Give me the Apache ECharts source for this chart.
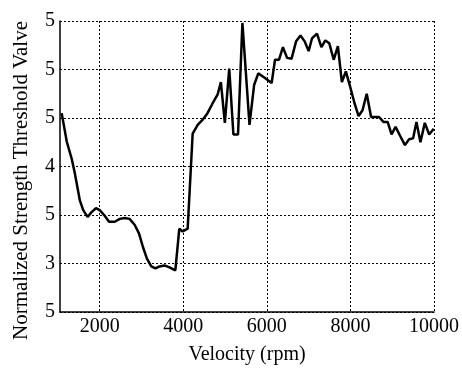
<!DOCTYPE html>
<html>
<head>
<meta charset="utf-8">
<script src="https://cdn.jsdelivr.net/npm/echarts@6/dist/echarts.min.js"></script>
<style>
  html, body { margin: 0; padding: 0; background: #fff; }
  #main { width: 462px; height: 370px; }
</style>
</head>
<body>
<div id="main"></div>
<script>
// velocity (rpm) and normalized strength
var velocity = [1090, 1130, 1210, 1330, 1405, 1525, 1605, 1710, 1805, 1910, 2000, 2105, 2225, 2360, 2480, 2600,
  2715, 2835, 2940, 3035, 3130, 3235, 3335, 3430, 3550, 3670, 3810, 3905, 3985, 4105, 4225, 4345, 4460, 4580,
  4700, 4820, 4900, 4995, 5100, 5200, 5310, 5415, 5585, 5695, 5795, 5930, 6115, 6195, 6290, 6385, 6485, 6590,
  6700, 6805, 6905, 7000, 7080, 7200, 7305, 7400, 7495, 7600, 7700, 7795, 7890, 7995, 8100, 8195, 8290, 8390,
  8495, 8590, 8685, 8790, 8890, 8985, 9080, 9185, 9305, 9400, 9500, 9580, 9675, 9780, 9885, 9995];
var strength = [4.55, 4.55, 4.26, 4.08, 3.93, 3.65, 3.55, 3.48, 3.53, 3.57, 3.55, 3.50, 3.43, 3.43, 3.46, 3.47,
  3.46, 3.40, 3.31, 3.17, 3.05, 2.97, 2.95, 2.97, 2.98, 2.96, 2.93, 3.36, 3.33, 3.36, 4.34, 4.43, 4.48, 4.55,
  4.65, 4.74, 4.87, 4.45, 5.01, 4.33, 4.33, 5.48, 4.43, 4.84, 4.96, 4.92, 4.86, 5.10, 5.10, 5.23, 5.12, 5.11,
  5.29, 5.35, 5.29, 5.19, 5.32, 5.37, 5.23, 5.30, 5.27, 5.10, 5.24, 4.87, 4.98, 4.82, 4.65, 4.52, 4.58, 4.75,
  4.51, 4.51, 4.51, 4.46, 4.46, 4.33, 4.41, 4.32, 4.22, 4.28, 4.29, 4.46, 4.25, 4.45, 4.33, 4.39];
// tick labels as printed
var xTicks = [2000, 4000, 6000, 8000, 10000];
var yTickLabels = ['5', '3', '5', '4', '5', '5', '5']; // bottom to top

var points = velocity.map(function (v, i) { return [v, strength[i]]; });

var myChart = echarts.init(document.getElementById('main'));

var font = 'Liberation Serif';
var gridLine = { show: true, lineStyle: { color: '#000', type: [2, 2], width: 1 } };

var option = {
    backgroundColor: '#fff',
    animation: false,
    grid: { left: 60, right: 25, top: 21, bottom: 58 },
    xAxis: {
        type: 'value',
        min: 1050,
        max: 10000,
        name: 'Velocity (rpm)',
        nameLocation: 'middle',
        nameGap: 33,
        nameTextStyle: { fontFamily: font, fontSize: 20, color: '#000' },
        axisLine: { show: true, onZero: false, lineStyle: { color: '#000', width: 1.5 } },
        axisTick: { show: false, customValues: xTicks },
        splitLine: gridLine,
        axisLabel: {
            fontFamily: font, fontSize: 20, color: '#000', margin: 5,
            customValues: xTicks,
            formatter: function (v) { return String(v); }
        },
        axisPointer: { show: false }
    },
    yAxis: {
        type: 'value',
        min: 2.5,
        max: 5.5,
        interval: 0.5,
        name: 'Normalized Strength Threshold Valve',
        nameLocation: 'middle',
        nameGap: 28,
        nameTextStyle: { fontFamily: font, fontSize: 21, color: '#000', padding: [0, 28, 0, 0] },
        axisLine: { show: true, lineStyle: { color: '#000', width: 1.5 } },
        axisTick: { show: false },
        splitLine: gridLine,
        axisLabel: {
            fontFamily: font, fontSize: 20, color: '#000', margin: 5,
            formatter: function (v) {
                return yTickLabels[Math.round((v - 2.5) / 0.5)];
            }
        }
    },
    series: [
        {
            type: 'line',
            data: points,
            showSymbol: false,
            lineStyle: { color: '#000', width: 2.5 },
            z: 5
        }
    ]
};

myChart.setOption(option);
</script>
</body>
</html>
